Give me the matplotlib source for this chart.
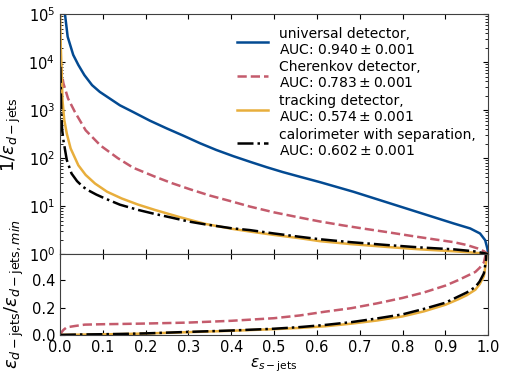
import numpy as np
import matplotlib
matplotlib.use("Agg")
import matplotlib.pyplot as plt

# upper panel: signal efficiency vs log10(1/eps_d)
univ_x = [0.009, 0.012, 0.018, 0.031, 0.043, 0.057, 0.075, 0.093, 0.14, 0.171, 0.21, 0.249,
          0.29, 0.327, 0.365, 0.405, 0.445, 0.483, 0.52, 0.561, 0.607, 0.685, 0.763, 0.841,
          0.919, 0.958, 0.981, 0.993, 0.998, 1.0]
univ_log = [5.3, 4.98, 4.53, 4.15, 3.94, 3.73, 3.52, 3.38, 3.10, 2.96, 2.78, 2.62,
            2.46, 2.31, 2.17, 2.04, 1.92, 1.81, 1.71, 1.61, 1.50, 1.30, 1.08, 0.86,
            0.64, 0.535, 0.43, 0.29, 0.12, 0.0]

cher_x = [0.001, 0.002, 0.008, 0.019, 0.035, 0.06, 0.095, 0.135, 0.171, 0.22, 0.261, 0.304,
          0.35, 0.4, 0.444, 0.5, 0.561, 0.607, 0.66, 0.71, 0.763, 0.82, 0.88, 0.919, 0.95,
          0.975, 0.99, 1.0]
cher_log = [4.2, 3.9, 3.56, 3.24, 2.96, 2.58, 2.26, 2.0, 1.8, 1.62, 1.48, 1.35,
            1.22, 1.10, 0.99, 0.87, 0.76, 0.68, 0.6, 0.53, 0.46, 0.38, 0.30, 0.25, 0.19,
            0.12, 0.06, 0.0]

track_x = [0.0005, 0.002, 0.004, 0.006, 0.01, 0.016, 0.025, 0.043, 0.06, 0.082, 0.11, 0.144,
           0.183, 0.222, 0.28, 0.339, 0.40, 0.444, 0.5, 0.561, 0.607, 0.678, 0.763, 0.84,
           0.919, 0.96, 0.98, 1.0]
track_log = [5.1, 4.3, 3.8, 3.2, 2.8, 2.51, 2.2, 1.85, 1.65, 1.47, 1.3, 1.16,
             1.03, 0.92, 0.77, 0.63, 0.53, 0.47, 0.4, 0.33, 0.27, 0.21, 0.15, 0.10,
             0.06, 0.035, 0.02, 0.0]

calo_x = [0.001, 0.003, 0.005, 0.008, 0.016, 0.027, 0.04, 0.054, 0.066, 0.085, 0.105, 0.14,
          0.183, 0.22, 0.261, 0.3, 0.339, 0.4, 0.444, 0.5, 0.561, 0.607, 0.678, 0.763,
          0.84, 0.919, 0.966, 0.99, 1.0]
calo_log = [3.9, 3.0, 2.6, 2.375, 1.96, 1.68, 1.52, 1.40, 1.33, 1.24, 1.16, 1.03,
            0.92, 0.84, 0.76, 0.68, 0.62, 0.54, 0.5, 0.43, 0.36, 0.31, 0.25, 0.19,
            0.14, 0.10, 0.06, 0.02, 0.0]

# lower panel: ratio to universal detector
cher_rx = [0, 0.004, 0.008, 0.016, 0.025, 0.035, 0.058, 0.1, 0.144, 0.2, 0.3, 0.4, 0.5, 0.56,
           0.62, 0.68, 0.74, 0.8, 0.85, 0.9, 0.93, 0.95, 0.97, 0.98, 0.99, 0.995, 1.0]
cher_ratio = [0, 0.02, 0.036, 0.056, 0.06, 0.065, 0.075, 0.078, 0.08, 0.083, 0.09, 0.103, 0.122,
              0.142, 0.17, 0.195, 0.23, 0.27, 0.31, 0.36, 0.40, 0.43, 0.46, 0.49, 0.53, 0.6, 1.0]

low_rx = [0, 0.05, 0.1, 0.144, 0.2, 0.3, 0.4, 0.5, 0.56, 0.62, 0.68, 0.74, 0.8, 0.85, 0.9,
          0.93, 0.95, 0.97, 0.98, 0.99, 0.995, 1.0]
calo_ratio = [0, 0.003, 0.005, 0.007, 0.011, 0.022, 0.032, 0.045, 0.057, 0.073, 0.093, 0.12,
              0.15, 0.19, 0.235, 0.28, 0.31, 0.35, 0.39, 0.45, 0.55, 1.0]
track_ratio = [0, 0.002, 0.004, 0.006, 0.01, 0.02, 0.03, 0.042, 0.051, 0.063, 0.082, 0.105,
               0.135, 0.172, 0.22, 0.26, 0.29, 0.33, 0.37, 0.43, 0.53, 1.0]

labels = ["universal detector,\nAUC: $0.940 \\pm 0.001$",
          "Cherenkov detector,\nAUC: $0.783 \\pm 0.001$",
          "tracking detector,\nAUC: $0.574 \\pm 0.001$",
          "calorimeter with separation,\nAUC: $0.602 \\pm 0.001$"]

BLUE = "#034a92"
RED = "#c45b6c"
YELLOW = "#e8ae3c"
BLACK = "black"
LW = 1.8

plt.rcParams['font.size'] = 10
plt.rcParams['axes.edgecolor'] = '0.25'

fig = plt.figure(figsize=(5.08, 3.81), dpi=100)
ax1 = fig.add_axes([0.118, 0.333, 0.843, 0.630])
ax2 = fig.add_axes([0.118, 0.121, 0.843, 0.212], sharex=ax1)

ax1.plot(univ_x, 10 ** np.array(univ_log), color=BLUE, lw=LW, label=labels[0])
ax1.plot(cher_x, 10 ** np.array(cher_log), color=RED, lw=LW, ls='--', label=labels[1])
ax1.plot(track_x, 10 ** np.array(track_log), color=YELLOW, lw=LW, label=labels[2])
ax1.plot(calo_x, 10 ** np.array(calo_log), color=BLACK, lw=LW, ls='-.', label=labels[3])
ax1.set_yscale('log')
ax1.set_ylim(1, 1e5)
ax1.set_xlim(0, 1)
ax1.set_ylabel(r'$1/\varepsilon_{d-\mathrm{jets}}$', fontsize=13)
ax1.legend(loc='upper right', frameon=False, fontsize=10, handlelength=2.2,
           labelspacing=0.25, borderaxespad=0.5)
plt.setp(ax1.get_xticklabels(), visible=False)

ax2.plot(cher_rx, cher_ratio, color=RED, lw=LW, ls='--')
ax2.plot(low_rx, track_ratio, color=YELLOW, lw=LW)
ax2.plot(low_rx, calo_ratio, color=BLACK, lw=LW, ls='-.')
ax2.set_ylim(0, 0.59)
ax2.set_yticks([0.0, 0.2, 0.4])
ax2.set_xticks(np.arange(0, 1.01, 0.1))
ax2.set_xlabel(r'$\varepsilon_{s-\mathrm{jets}}$', fontsize=11, labelpad=1)
ax2.set_ylabel(r'$\varepsilon_{d-\mathrm{jets}}/\varepsilon_{d-\mathrm{jets},min}$', fontsize=13)

for ax in (ax1, ax2):
    ax.tick_params(which='both', direction='in', top=True, right=True, labelsize=10.5)

fig.align_ylabels([ax1, ax2])
fig.savefig('out.png', dpi=100)
